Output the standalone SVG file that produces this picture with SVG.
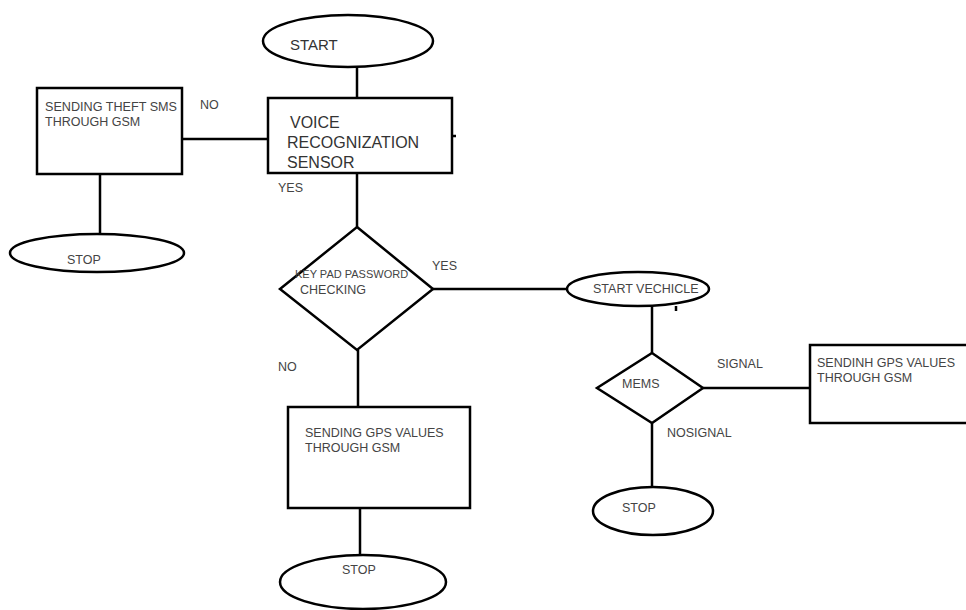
<svg xmlns="http://www.w3.org/2000/svg" width="966" height="610" viewBox="0 0 966 610">
<style>
.s{fill:#fff;stroke:#000;stroke-width:2.5}
.c{fill:none;stroke:#000;stroke-width:2.5}
.t{font-family:"Liberation Sans",Arial,sans-serif;font-size:12.5px;fill:#444}
.b{font-family:"Liberation Sans",Arial,sans-serif;font-size:16px;fill:#333}
</style>
<rect width="966" height="610" fill="#fff"/>
<g id="connectors">
<line class="c" x1="357" y1="67" x2="357" y2="98"/>
<line class="c" x1="357" y1="173" x2="357" y2="227"/>
<line class="c" x1="170" y1="139" x2="268" y2="139"/>
<line class="c" x1="452" y1="136" x2="456" y2="136"/>
<line class="c" x1="100" y1="174" x2="100" y2="234"/>
<line class="c" x1="433" y1="289" x2="567" y2="289"/>
<line class="c" x1="358" y1="350" x2="358" y2="407"/>
<line class="c" x1="360" y1="508" x2="360" y2="555"/>
<line class="c" x1="652" y1="306" x2="652" y2="353"/>
<line class="c" x1="676" y1="306" x2="676" y2="311"/>
<line class="c" x1="703" y1="388" x2="810" y2="388"/>
<line class="c" x1="652" y1="423" x2="652" y2="487"/>
<text class="t" x="200" y="109">NO</text>
<text class="t" x="278" y="192">YES</text>
<text class="t" x="432" y="270">YES</text>
<text class="t" x="278" y="371">NO</text>
<text class="t" x="717" y="368">SIGNAL</text>
<text class="t" x="667" y="437">NOSIGNAL</text>
</g>
<g id="start">
<ellipse class="s" cx="348" cy="41" rx="85" ry="26"/>
<text class="b" x="290" y="50" style="font-size:15px">START</text>
</g>
<g id="voice">
<rect class="s" x="268" y="98" width="184" height="75"/>
<text class="b" x="290" y="128">VOICE</text>
<text class="b" x="287" y="148">RECOGNIZATION</text>
<text class="b" x="287" y="168">SENSOR</text>
</g>
<g id="theft">
<rect class="s" x="37" y="88" width="145" height="86"/>
<text class="t" x="45" y="111" textLength="132" lengthAdjust="spacingAndGlyphs">SENDING THEFT SMS</text>
<text class="t" x="45" y="126">THROUGH GSM</text>
</g>
<g id="stop1">
<ellipse class="s" cx="97" cy="253" rx="87" ry="19"/>
<text class="t" x="67" y="264">STOP</text>
</g>
<g id="keypad">
<polygon class="s" points="357,227 433,289 357,350 280,289"/>
<text class="t" x="295" y="278" style="font-size:11px">KEY PAD PASSWORD</text>
<text class="t" x="300" y="294">CHECKING</text>
</g>
<g id="startvehicle">
<ellipse class="s" cx="638" cy="289" rx="71" ry="17"/>
<text class="t" x="593" y="293">START VECHICLE</text>
</g>
<g id="gps1">
<rect class="s" x="288" y="407" width="182" height="101"/>
<text class="t" x="305" y="437">SENDING GPS VALUES</text>
<text class="t" x="305" y="452">THROUGH GSM</text>
</g>
<g id="stop2">
<ellipse class="s" cx="363" cy="582" rx="83" ry="27"/>
<text class="t" x="342" y="574">STOP</text>
</g>
<g id="mems">
<polygon class="s" points="652,353 703,388 652,423 597,388"/>
<text class="t" x="622" y="388">MEMS</text>
</g>
<g id="gps2">
<rect class="s" x="810" y="345" width="160" height="78"/>
<text class="t" x="817" y="367">SENDINH GPS VALUES</text>
<text class="t" x="817" y="382">THROUGH GSM</text>
</g>
<g id="stop3">
<ellipse class="s" cx="653" cy="511" rx="60" ry="24"/>
<text class="t" x="622" y="512">STOP</text>
</g>
</svg>
